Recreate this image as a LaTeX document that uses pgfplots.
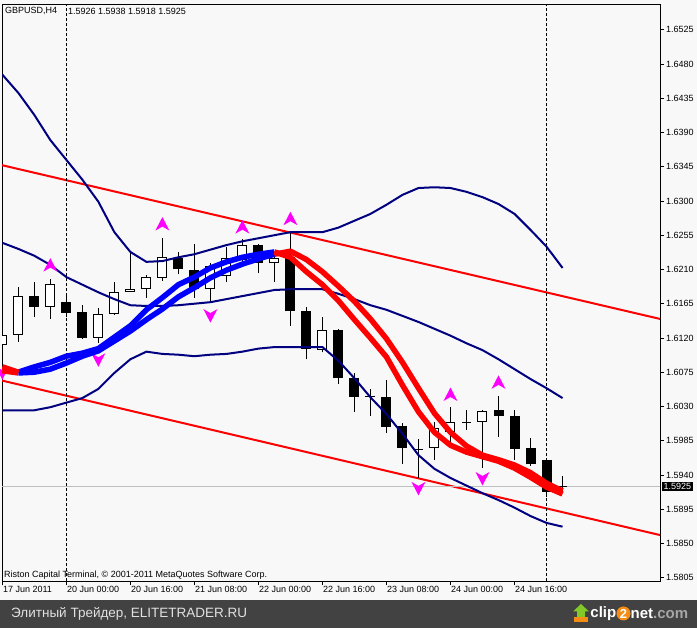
\documentclass[border=0pt]{standalone}
\usepackage{pgfplots}
\pgfplotsset{compat=1.18}
\usepackage{pgfplotstable}
\usepackage{fontspec}
\setmainfont{Liberation Sans}
\definecolor{bgc}{RGB}{248,248,248}
\definecolor{footc}{RGB}{66,66,66}
\definecolor{foottext}{RGB}{225,225,225}
\definecolor{navyc}{RGB}{0,0,128}
\definecolor{mag}{RGB}{255,0,255}
\definecolor{c2orange}{RGB}{245,140,20}
\definecolor{c2green}{RGB}{130,200,40}

\pgfdeclareplotmark{fup}{%
 \pgfpathmoveto{\pgfqpoint{0pt}{7.5pt}}%
 \pgfpathlineto{\pgfqpoint{7pt}{-6pt}}%
 \pgfpathlineto{\pgfqpoint{0pt}{-2pt}}%
 \pgfpathlineto{\pgfqpoint{-7pt}{-6pt}}%
 \pgfpathclose\pgfusepathqfill}
\pgfdeclareplotmark{fdown}{%
 \pgfpathmoveto{\pgfqpoint{0pt}{-7.5pt}}%
 \pgfpathlineto{\pgfqpoint{7pt}{6pt}}%
 \pgfpathlineto{\pgfqpoint{0pt}{2pt}}%
 \pgfpathlineto{\pgfqpoint{-7pt}{6pt}}%
 \pgfpathclose\pgfusepathqfill}

\pgfplotstableread{
x o h l c
0 1.6111 1.6129 1.6091 1.6124
1 1.6124 1.6187 1.6115 1.6175
2 1.6175 1.6194 1.6147 1.6161
3 1.6161 1.6198 1.6145 1.6191
4 1.6167 1.6175 1.6148 1.6153
5 1.6154 1.6163 1.6119 1.6120
6 1.6120 1.6159 1.6113 1.6151
7 1.6151 1.6194 1.6150 1.6180
8 1.6181 1.6234 1.6180 1.6184
9 1.6184 1.6203 1.6173 1.6200
10 1.6199 1.6251 1.6195 1.6226
11 1.6225 1.6233 1.6204 1.6210
12 1.6209 1.6244 1.6173 1.6184
13 1.6184 1.6218 1.6166 1.6215
14 1.6201 1.6239 1.6193 1.6225
15 1.6223 1.6250 1.6214 1.6242
16 1.6242 1.6244 1.6205 1.6218
17 1.6219 1.6231 1.6194 1.6225
18 1.6226 1.6258 1.6136 1.6155
19 1.6155 1.6161 1.6092 1.6105
20 1.6104 1.6147 1.6101 1.6131
21 1.6131 1.6132 1.6059 1.6067
22 1.6067 1.6074 1.6023 1.6043
23 1.6043 1.6053 1.6017 1.6043
24 1.6042 1.6065 1.5995 1.6003
25 1.6004 1.6008 1.5954 1.5975
26 1.5974 1.5987 1.5936 1.5974
27 1.5975 1.6010 1.5959 1.6002
28 1.5996 1.6029 1.5979 1.6009
29 1.6009 1.6025 1.5999 1.6009
30 1.6010 1.6025 1.5949 1.6024
31 1.6025 1.6044 1.5990 1.6017
32 1.6017 1.6025 1.5960 1.5974
33 1.5975 1.5988 1.5952 1.5954
34 1.5960 1.5961 1.5911 1.5918
35 1.5926 1.5938 1.5918 1.5925
}\ohlc

\pgfplotstableread{
x o c
0 1.6111 1.6124
1 1.6124 1.6175
3 1.6161 1.6191
6 1.6120 1.6151
7 1.6151 1.6180
8 1.6181 1.6184
9 1.6184 1.6200
10 1.6199 1.6226
13 1.6184 1.6215
14 1.6201 1.6225
15 1.6223 1.6242
17 1.6219 1.6225
20 1.6104 1.6131
27 1.5975 1.6002
28 1.5996 1.6009
30 1.6010 1.6024
}\bull

\pgfplotstableread{
x o c
2 1.6175 1.6161
4 1.6167 1.6153
5 1.6154 1.6120
11 1.6225 1.6210
12 1.6209 1.6184
16 1.6242 1.6218
18 1.6226 1.6155
19 1.6155 1.6105
21 1.6131 1.6067
22 1.6067 1.6043
24 1.6042 1.6003
25 1.6004 1.5975
31 1.6025 1.6017
32 1.6017 1.5974
33 1.5975 1.5954
34 1.5960 1.5918
}\bear

\pgfplotstableread{
x o
23 1.6043
26 1.5974
29 1.6009
35 1.5925
}\doji

\pgfplotstableread{
x up mid lo fast slow
0 1.6466 1.6245 1.6025 1.6082 1.6077
1 1.6442 1.6237 1.6025 1.6075 1.6074
2 1.6413 1.6228 1.6025 1.6082 1.6075
3 1.6380 1.6216 1.6029 1.6088 1.6079
4 1.6354 1.6200 1.6035 1.6096 1.6087
5 1.6328 1.6190 1.6041 1.6100 1.6096
6 1.6299 1.6180 1.6053 1.6106 1.6103
7 1.6259 1.6171 1.6074 1.6121 1.6116
8 1.6233 1.6163 1.6092 1.6136 1.6129
9 1.6220 1.6162 1.6102 1.6157 1.6144
10 1.6221 1.6162 1.6099 1.6173 1.6158
11 1.6226 1.6163 1.6098 1.6190 1.6174
12 1.6230 1.6165 1.6096 1.6200 1.6186
13 1.6236 1.6167 1.6098 1.6212 1.6199
14 1.6242 1.6171 1.6099 1.6220 1.6209
15 1.6247 1.6175 1.6102 1.6226 1.6217
16 1.6251 1.6179 1.6106 1.6230 1.6224
17 1.6255 1.6183 1.6108 1.6233 1.6230
18 1.6259 1.6184 1.6108 1.6226 1.6234
19 1.6259 1.6184 1.6108 1.6207 1.6223
20 1.6259 1.6184 1.6108 1.6190 1.6207
21 1.6265 1.6178 1.6090 1.6169 1.6188
22 1.6274 1.6171 1.6067 1.6144 1.6168
23 1.6283 1.6163 1.6042 1.6120 1.6145
24 1.6295 1.6157 1.6020 1.6095 1.6119
25 1.6308 1.6149 1.5994 1.6058 1.6088
26 1.6317 1.6141 1.5966 1.6023 1.6054
27 1.6318 1.6132 1.5948 1.5996 1.6021
28 1.6317 1.6123 1.5936 1.5979 1.5996
29 1.6312 1.6113 1.5926 1.5970 1.5978
30 1.6305 1.6104 1.5916 1.5964 1.5966
31 1.6296 1.6092 1.5907 1.5958 1.5960
32 1.6283 1.6079 1.5897 1.5949 1.5953
33 1.6262 1.6066 1.5886 1.5937 1.5943
34 1.6240 1.6054 1.5877 1.5924 1.5929
35 1.6212 1.6041 1.5872 1.5915 1.5919
}\ind

\pgfplotstableread{
x y
3 1.6215
10 1.6269
15 1.6265
18 1.6276
28 1.6045
31 1.6061
}\fup

\pgfplotstableread{
x y
0 1.6075
6 1.6092
13 1.6150
26 1.5923
30 1.5936
}\fdown

\pgfplotsset{candle/.style={draw=none, mark=none, mark size=0pt}}

\begin{document}
\begin{tikzpicture}[x=1pt,y=1pt]
\fill[bgc] (0pt,0pt) rectangle (697pt,628pt);
\fill[footc] (0pt,0pt) rectangle (697pt,28pt);
\begin{axis}[
  at={(2pt,46.5pt)}, anchor=south west,
  scale only axis, width=658pt, height=576.5pt,
  xmin=-0.02, xmax=41.09, ymin=1.5800, ymax=1.65575,
  clip mode=individual,
  axis background/.style={fill=bgc},
  axis line style={black, line width=1pt},
  tick style={black, line width=0.8pt},
  tick align=outside, major tick length=4pt,
  xtick pos=left, ytick pos=right, yticklabel pos=right,
  xtick={0,4,8,12,16,20,24,28,32},
  xticklabels={17 Jun 2011,20 Jun 00:00,20 Jun 16:00,21 Jun 08:00,22 Jun 00:00,22 Jun 16:00,23 Jun 08:00,24 Jun 00:00,24 Jun 16:00},
  ytick={1.5805,1.5850,1.5895,1.5940,1.5985,1.6030,1.6075,1.6120,1.6165,1.6210,1.6255,1.6300,1.6345,1.6390,1.6435,1.6480,1.6525},
  scaled y ticks=false,
  /pgf/number format/assume math mode=true,
  yticklabel style={/pgf/number format/.cd, fixed, fixed zerofill, precision=4, /tikz/.cd, anchor=west, inner sep=2pt},
  xticklabel style={anchor=north west, inner sep=1pt, xshift=-0.5pt},
  ticklabel style={font=\fontsize{9}{10}\selectfont},
]
% channel lines
\addplot[red, line width=2pt] coordinates {(-0.02,1.6347) (41.09,1.6145)};
\addplot[red, line width=2pt] coordinates {(-0.02,1.6064) (41.09,1.5861)};
% bid line
\addplot[black!25, line width=1pt] coordinates {(-0.02,1.5925) (41.09,1.5925)};
% period separators
\addplot[black, line width=1pt, dash pattern=on 3pt off 2pt] coordinates {(4,1.5800) (4,1.65575)};
\addplot[black, line width=1pt, dash pattern=on 3pt off 2pt] coordinates {(34,1.5800) (34,1.65575)};
% candles: wicks
\addplot[candle, error bars/.cd, y dir=plus, y explicit, error mark=none,
  error bar style={line width=1pt, draw=black}]
  table[x=x, y=l, y error expr=\thisrow{h}-\thisrow{l}] {\ohlc};
% bear bodies
\addplot[candle, error bars/.cd, y dir=plus, y explicit, error mark=none,
  error bar style={line width=10pt, draw=black}]
  table[x=x, y=c, y error expr=\thisrow{o}-\thisrow{c}] {\bear};
% bull bodies
\addplot[candle, error bars/.cd, y dir=plus, y explicit, error mark=none,
  error bar style={line width=10pt, draw=black}]
  table[x=x, y=o, y error expr=\thisrow{c}-\thisrow{o}] {\bull};
\addplot[candle, error bars/.cd, y dir=plus, y explicit, error mark=none,
  error bar style={line width=8pt, draw=white}]
  table[x=x, y expr=\thisrow{o}+0.00013, y error expr=\thisrow{c}-\thisrow{o}-0.00026] {\bull};
% doji
\addplot[candle, error bars/.cd, x dir=both, x fixed=0.31, error mark=none,
  error bar style={line width=1pt, draw=black}]
  table[x=x, y=o] {\doji};
% bands
\addplot[navyc, line width=2pt] table[x=x, y=up] {\ind};
\addplot[navyc, line width=2pt] table[x=x, y=mid] {\ind};
\addplot[navyc, line width=2pt] table[x=x, y=lo] {\ind};
% fractal marks
\addplot[only marks, mark=fdown, mag, mark options={fill=mag}] table[x=x,y=y] {\fdown};
\addplot[only marks, mark=fup, mag, mark options={fill=mag}] table[x=x,y=y] {\fup};
% moving averages
\addplot[blue, line width=5.5pt, line join=round, restrict x to domain=1:17] table[x=x, y=slow] {\ind};
\addplot[blue, line width=5.5pt, line join=round, restrict x to domain=1:17] table[x=x, y=fast] {\ind};
\addplot[red, line width=5.5pt, line join=round, restrict x to domain=0:1] table[x=x, y=slow] {\ind};
\addplot[red, line width=5.5pt, line join=round, restrict x to domain=0:1] table[x=x, y=fast] {\ind};
\addplot[red, line width=5.5pt, line join=round, restrict x to domain=17:35] table[x=x, y=slow] {\ind};
\addplot[red, line width=5.5pt, line join=round, restrict x to domain=17:35] table[x=x, y=fast] {\ind};
\coordinate (bid) at (axis cs:41.09,1.5925);
\end{axis}
\node[fill=black, text=white, anchor=west, inner sep=1.5pt, font=\fontsize{9}{10}\selectfont] at ([xshift=2pt]bid) {1.5925};
\node[anchor=west, inner sep=0pt, font=\fontsize{9}{10}\selectfont] at (5pt,617pt) {GBPUSD,H4};
\node[anchor=west, inner sep=0pt, font=\fontsize{9}{10}\selectfont] at (68pt,617pt) {1.5926 1.5938 1.5918 1.5925};
\node[anchor=west, inner sep=0pt, font=\fontsize{9}{10}\selectfont] at (4pt,53pt) {Riston Capital Terminal, © 2001-2011 MetaQuotes Software Corp.};
% footer
\node[anchor=west, inner sep=0pt, text=foottext, font=\fontsize{13.5}{16}\selectfont] at (11pt,14.5pt) {Элитный Трейдер, ELITETRADER.RU};
\fill[c2orange] (574pt,6pt) rectangle (588pt,11pt);
\fill[c2green] (581pt,24pt) -- (589pt,16.5pt) -- (585pt,16.5pt) -- (585pt,11pt) -- (577pt,11pt) -- (577pt,16.5pt) -- (573pt,16.5pt) -- cycle;
\node[anchor=east, inner sep=0pt, text=white, font=\bfseries\fontsize{15}{18}\selectfont] at (616.5pt,14.5pt) {clip};
\fill[c2orange] (623.5pt,14.5pt) circle (7pt);
\node[inner sep=0pt, text=white, font=\bfseries\fontsize{13}{16}\selectfont] at (623.5pt,14.5pt) {2};
\node[anchor=west, inner sep=0pt, text=white, font=\bfseries\fontsize{15}{18}\selectfont] at (630.5pt,14.5pt) {net\textcolor{gray!70}{.com}};
\pgfresetboundingbox
\useasboundingbox (0pt,0pt) rectangle (697pt,628pt);
\end{tikzpicture}
\end{document}
